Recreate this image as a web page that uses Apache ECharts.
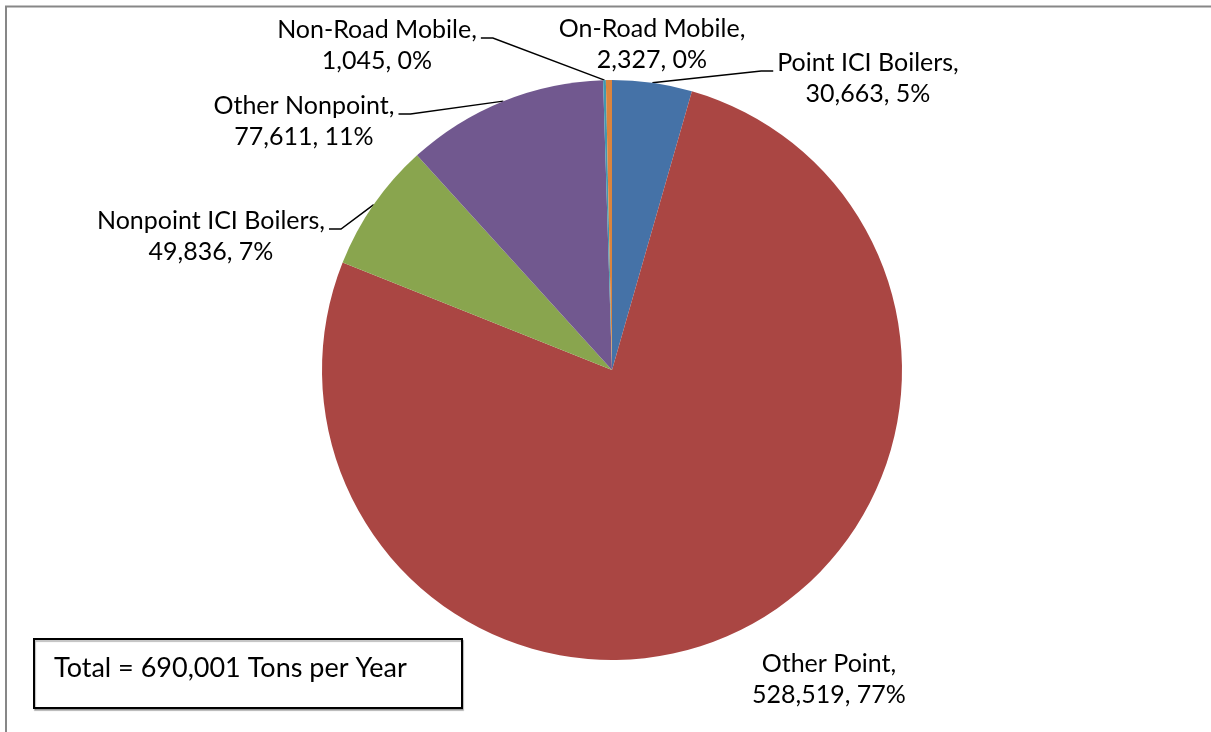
<!DOCTYPE html>
<html>
<head>
<meta charset="utf-8">
<title>Emissions by Source Category</title>
<script src="https://cdn.jsdelivr.net/npm/echarts@6/dist/echarts.min.js"></script>
<style>
  html, body { margin: 0; padding: 0; background: #ffffff; }
  #chart { width: 1211px; height: 732px; }
</style>
</head>
<body>
<div id="chart"></div>
<script>
// Source categories, in clockwise order from 12 o'clock
const categories = [
  'Point ICI Boilers',
  'Other Point',
  'Nonpoint ICI Boilers',
  'Other Nonpoint',
  'Non-Road Mobile',
  'On-Road Mobile'
];
// Annual emissions, tons per year
const tons = [30663, 528519, 49836, 77611, 1045, 2327];

// Slice colours
const colors = ['#4572A7', '#AA4643', '#89A54E', '#71588F', '#4198AF', '#DB843D'];

// Where each two-line label block is centred (px), and which side its leader joins
const labelCenters = [
  [868, 78],
  [829, 679],
  [211, 236],
  [304, 121],
  [377, 45],
  [652, 44]
];
const leaderSide = ['left', null, 'right', 'right', 'right', null];

const FONT = 'Lato, "Open Sans", sans-serif';
const total = tons.reduce((s, v) => s + v, 0);

const chart = echarts.init(document.getElementById('chart'), null, { renderer: 'canvas' });

const pieData = categories.map((name, i) => ({
  name: name,
  value: tons[i],
  itemStyle: { color: colors[i] },
  labelLine: { show: leaderSide[i] !== null }
}));

chart.setOption({
  animation: false,
  backgroundColor: '#ffffff',
  graphic: [
    {
      // chart-area frame
      type: 'rect',
      silent: true,
      z: 0,
      shape: { x: 6, y: 6.5, width: 1400, height: 900 },
      style: { fill: 'none', stroke: '#878787', lineWidth: 2 }
    },
    {
      type: 'group',
      left: 33,
      top: 638,
      z: 10,
      children: [
        {
          type: 'rect',
          shape: { x: 0, y: 0, width: 428, height: 69 },
          style: {
            fill: '#ffffff',
            stroke: '#000000',
            lineWidth: 2,
            shadowColor: 'rgba(0,0,0,0.25)',
            shadowOffsetX: 1,
            shadowOffsetY: 2,
            shadowBlur: 1
          }
        },
        {
          type: 'text',
          x: 20,
          y: 29,
          style: {
            text: 'Total = ' + echarts.format.addCommas(total) + ' Tons per Year',
            font: '27px ' + FONT,
            fill: '#000000',
            verticalAlign: 'middle',
            align: 'left'
          }
        }
      ]
    }
  ],
  series: [
    {
      type: 'pie',
      center: [612, 370],
      radius: 290,
      startAngle: 90,
      clockwise: true,
      percentPrecision: 0,
      avoidLabelOverlap: false,
      emphasis: { disabled: true },
      itemStyle: { borderWidth: 0 },
      label: {
        show: true,
        position: 'outside',
        color: '#000000',
        fontFamily: FONT,
        fontSize: 25,
        lineHeight: 31,
        align: 'center',
        formatter: function (p) {
          return p.name + ',\n' + echarts.format.addCommas(p.value) + ', ' + p.percent + '%';
        }
      },
      labelLine: {
        show: true,
        length: 10,
        length2: 10,
        lineStyle: { color: '#000000', width: 1.5 }
      },
      labelLayout: function (p) {
        const i = p.dataIndex;
        const c = labelCenters[i];
        const out = { x: c[0], y: c[1], align: 'center', verticalAlign: 'middle' };
        const side = leaderSide[i];
        if (side && p.labelLinePoints && p.labelRect) {
          const half = p.labelRect.width / 2;
          const yJoin = c[1] - 7;
          const gap = 4, run = 12;
          let endX, bendX;
          if (side === 'right') {
            endX = c[0] + half + gap;
            bendX = endX + run;
          } else {
            endX = c[0] - half - gap;
            bendX = endX - run;
          }
          const a = p.labelLinePoints[0];
          out.labelLinePoints = [[a[0], a[1]], [bendX, yJoin], [endX, yJoin]];
        }
        return out;
      },
      data: pieData
    }
  ]
});
</script>
</body>
</html>
